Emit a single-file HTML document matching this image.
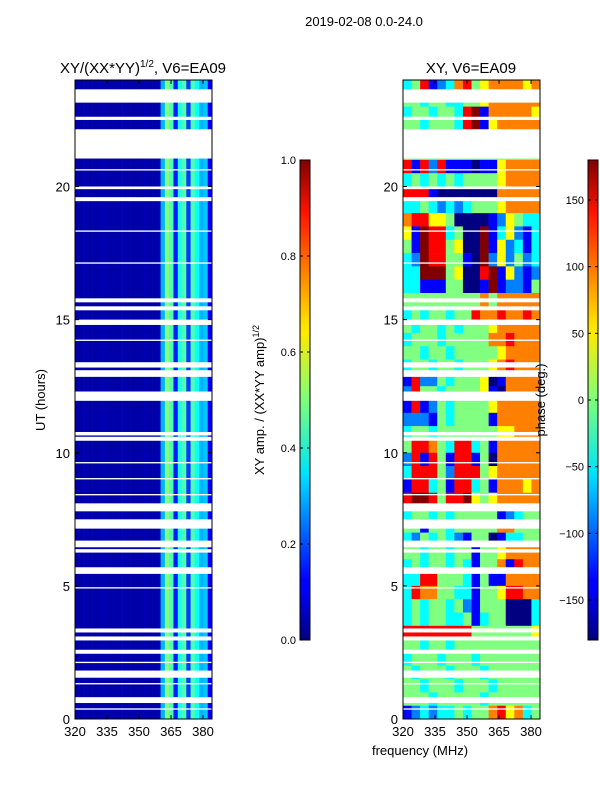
<!DOCTYPE html>
<html><head><meta charset="utf-8"><style>
html,body{margin:0;padding:0;background:#fff;}
svg{display:block;font-family:"Liberation Sans",sans-serif;}
</style></head><body>
<svg id="fig" width="600" height="800" viewBox="0 0 600 800" xmlns="http://www.w3.org/2000/svg">
<defs>
<linearGradient id="jet" x1="0" y1="1" x2="0" y2="0">
<stop offset="0" stop-color="#00007f"/><stop offset="0.11" stop-color="#0000ff"/><stop offset="0.125" stop-color="#0000ff"/>
<stop offset="0.34" stop-color="#00dcff"/><stop offset="0.35" stop-color="#00e5f7"/><stop offset="0.5" stop-color="#7dff7a"/>
<stop offset="0.64" stop-color="#ffea00"/><stop offset="0.66" stop-color="#ffe000"/><stop offset="0.89" stop-color="#ff1300"/>
<stop offset="1" stop-color="#7f0000"/>
</linearGradient>
</defs>
<text x="364" y="26" font-size="13" text-anchor="middle">2019-02-08 0.0-24.0</text>
<g id="left"></g>
<g id="right"></g>
<text x="143" y="73" font-size="15" text-anchor="middle">XY/(XX*YY)<tspan font-size="10" dy="-6">1/2</tspan><tspan dy="6">, V6=EA09</tspan></text>
<text x="471" y="73" font-size="15" text-anchor="middle">XY, V6=EA09</text>
<text transform="translate(45,400) rotate(-90)" font-size="13" text-anchor="middle">UT (hours)</text>
<text x="420" y="755" font-size="13" text-anchor="middle">frequency (MHz)</text>
<g id="cb1"></g>
<g id="cb2"></g>
<text transform="translate(264,400) rotate(-90)" font-size="13" text-anchor="middle">XY amp. / (XX*YY amp)<tspan font-size="9" dy="-5">1/2</tspan></text>
<text transform="translate(545,400) rotate(-90)" font-size="13" text-anchor="middle">phase (deg.)</text>
</svg>
<script>
// ---- data ----
const freqTicks = [320, 335, 350, 365, 380];
const hourTicks = [0, 5, 10, 15, 20];
const ampTicks = [0.0, 0.2, 0.4, 0.6, 0.8, 1.0];
const phaseTicks = [-150, -100, -50, 0, 50, 100, 150];
// amplitude per channel (32 channels, 320-384 MHz)
const ampProfile = [0.04,0.04,0.05,0.04,0.04,0.04,0.05,0.04,0.04,0.04,0.04,0.05,0.04,0.04,0.04,0.04,0.05,0.04,0.04,0.05,
  0.3,0.5,0.45,0.15,0.4,0.45,0.18,0.45,0.38,0.3,0.32,0.12];
// flagged time ranges (hours)
const flagStart = [23.15,22.5,21.05,19.9,19.45,15.65,15.35,14.8,13.2,12.85,11.95,10.65,10.45,7.8,7.15,6.45,6.25,5.45,3.25,2.95,2.45,1.55,0.6,20.6,18.3,17.1,14.2,9.6,9.0,8.4,4.9,2.1,1.3,0.35];
const flagEnd   = [23.65,22.62,22.15,20.0,19.6,15.8,15.5,15.0,13.4,13.1,12.3,10.78,10.6,8.1,7.5,6.7,6.38,5.7,3.4,3.1,2.6,1.82,0.82,20.65,18.35,17.15,14.25,9.65,9.05,8.45,4.95,2.15,1.35,0.4];
// phase grid: rows from 24h downward (0.5h each), 16 channels; code 0..8 => -180..180 deg
const phaseRows = [
"3471236745666656","4434433445666666","3443443781666665","4434443781566666",
"4444444444444444","4444444444444444","7172711101156666","3434343444456666",
"7771000000066666","3343232344456666","6775540000125433","5187734008135213",
"4187745008152313","3287744108252423","3388845007815212","3311144001812214",
"4444444446466666","3434434476676676","4344343444566666","3444344444667666",
"4434434444456666","3443443444567666","1722434445016666","2744344445106666",
"1712434444566666","2221434444166666","3443444444455666","4776437734166666",
"2717417714066666","3777427774566666","1773417734166656","7887477854566666",
"3443434444412344","4414434444466444","3243432144013344","4434434414456666",
"3434434314461766","3377444314116666","3766443314457766","3434434214440003",
"3434433413440003","7777777744444445","4434434444444444","3444344434444444",
"4344434443444444","4434443444344444","4443444443444444","1232334344675634"];

// ---- helpers ----
const NS = "http://www.w3.org/2000/svg";
const FMIN = 320, FMAX = 384.2, Y0 = 719, Y1 = 80;
function yOf(h){ return Y0 - (h/24)*(Y0-Y1); }
function jet(v){
  v = Math.max(0, Math.min(1, v));
  const r = Math.max(0, Math.min(1, 1.5 - Math.abs(4*v - 3)));
  const g = Math.max(0, Math.min(1, 1.5 - Math.abs(4*v - 2)));
  const b = Math.max(0, Math.min(1, 1.5 - Math.abs(4*v - 1)));
  return `rgb(${Math.round(r*255)},${Math.round(g*255)},${Math.round(b*255)})`;
}
function mk(tag, attrs, parent){
  const e = document.createElementNS(NS, tag);
  for (const k in attrs) e.setAttribute(k, attrs[k]);
  parent.appendChild(e); return e;
}
function panel(gid, x0, x1, fill){
  const g = document.getElementById(gid);
  const xOf = f => x0 + (f - FMIN)/(FMAX - FMIN)*(x1 - x0);
  fill(g, xOf);
  // flags
  for (let i = 0; i < flagStart.length; i++){
    const r = mk("rect", {x:x0, y:yOf(flagEnd[i]), width:x1-x0, height:Math.max(1, yOf(flagStart[i])-yOf(flagEnd[i])), fill:"#fff"}, g);
    
    
  }
  const fr = mk("rect", {x:x0, y:Y1, width:x1-x0, height:Y0-Y1, fill:"none", stroke:"#000", "stroke-width":1}, g);
  
  
  freqTicks.forEach(f => {
    const x = xOf(f);
    mk("line", {x1:x, x2:x, y1:Y0, y2:Y0-4, stroke:"#000"}, g);
    mk("line", {x1:x, x2:x, y1:Y1, y2:Y1+4, stroke:"#000"}, g);
    const t = mk("text", {x:x, y:Y0+17, "font-size":13, "text-anchor":"middle"}, g);
    t.textContent = f;
    
    
  });
  hourTicks.forEach(h => {
    const y = yOf(h);
    mk("line", {x1:x0, x2:x0+4, y1:y, y2:y, stroke:"#000"}, g);
    mk("line", {x1:x1, x2:x1-4, y1:y, y2:y, stroke:"#000"}, g);
    const t = mk("text", {x:x0-5, y:y+5, "font-size":13, "text-anchor":"end"}, g);
    t.textContent = h;
    
    
  });
}
// amplitude panel
panel("left", 75, 212, (g, xOf) => {
  const nc = ampProfile.length, df = (FMAX-FMIN)/nc;
  ampProfile.forEach((v, c) => {
    const xa = xOf(FMIN + c*df), xb = xOf(FMIN + (c+1)*df);
    const r = mk("rect", {x:xa, y:Y1, width:xb-xa+0.3, height:Y0-Y1, fill:jet(v)}, g);
    
    
  });
});
// phase panel
panel("right", 403, 540, (g, xOf) => {
  const nr = phaseRows.length, dh = 24/nr;
  phaseRows.forEach((row, ri) => {
    const nc = row.length, df = (FMAX-FMIN)/nc;
    const hTop = 24 - ri*dh, hBot = hTop - dh;
    for (let c = 0; c < nc; c++){
      const deg = -180 + Number(row[c])*45;
      const xa = xOf(FMIN + c*df), xb = xOf(FMIN + (c+1)*df);
      const r = mk("rect", {x:xa, y:yOf(hTop), width:xb-xa+0.3, height:yOf(hBot)-yOf(hTop)+0.3, fill:jet((deg+180)/360)}, g);
      
      
    }
  });
});
// colorbars
function colorbar(gid, x, vmin, vmax, ticks, fmt){
  const g = document.getElementById(gid);
  const top = 160, bot = 640;
  mk("rect", {x:x, y:top, width:10, height:bot-top, fill:"url(#jet)", stroke:"#000", "stroke-width":1}, g);
  ticks.forEach(v => {
    const y = bot - (v - vmin)/(vmax - vmin)*(bot - top);
    mk("line", {x1:x, x2:x+3, y1:y, y2:y, stroke:"#000"}, g);
    mk("line", {x1:x+10, x2:x+7, y1:y, y2:y, stroke:"#000"}, g);
    const t = mk("text", {x:x-4, y:y+4, "font-size":11, "text-anchor":"end"}, g);
    t.textContent = fmt(v);
    
    
  });
}
colorbar("cb1", 300, 0, 1, ampTicks, v => v.toFixed(1));
colorbar("cb2", 588, -180, 180, phaseTicks, v => (v < 0 ? "\u2212" + (-v) : String(v)));
</script>
</body></html>
